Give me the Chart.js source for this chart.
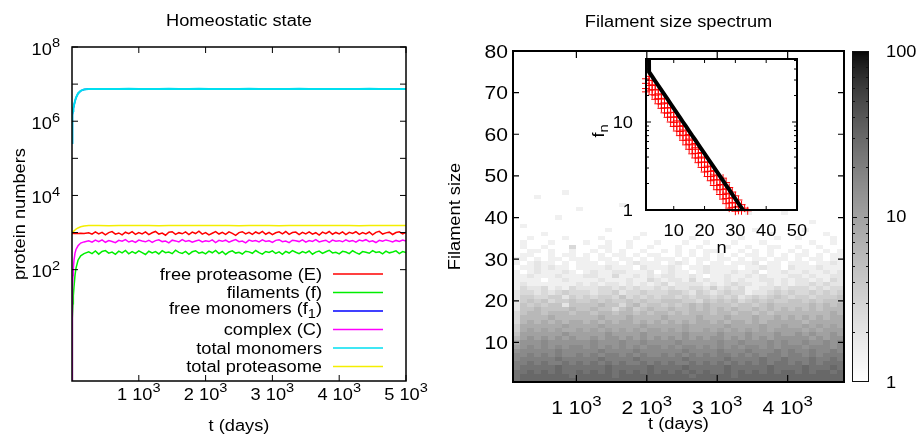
<!DOCTYPE html>
<html>
<head>
<meta charset="utf-8">
<script src="https://cdn.jsdelivr.net/npm/chart.js@4.4.0/dist/chart.umd.min.js"></script>
<style>
  html, body { margin: 0; padding: 0; background: #fff; }
  #wrap { position: relative; width: 917px; height: 435px; overflow: hidden; }
  canvas { position: absolute; left: 0; top: 0; }
</style>
</head>
<body>
<div id="wrap">
  <canvas id="left" width="917" height="435"></canvas>
  <canvas id="right" width="917" height="435"></canvas>
  <canvas id="inset" width="917" height="435"></canvas>
</div>
<script>
// ---------- left panel: homeostatic state ----------
const seriesNames = ["free proteasome (E)", "filaments (f)", "free monomers (f_{1})",
                     "complex (C)", "total monomers", "total proteasome"];
const seriesColors = ["#ff0000", "#00ee00", "#0000ff", "#ff00ff", "#00dff0", "#f4ee00"];

// days, for the noisy series
const tFast = [0, 2, 5, 10, 15, 20, 30, 45, 60, 90, 130, 180,
  250, 300, 350, 400, 450, 500, 550, 600, 650, 700,
  750, 800, 850, 900, 950, 1000, 1050, 1100, 1150, 1200,
  1250, 1300, 1350, 1400, 1450, 1500, 1550, 1600, 1650, 1700,
  1750, 1800, 1850, 1900, 1950, 2000, 2050, 2100, 2150, 2200,
  2250, 2300, 2350, 2400, 2450, 2500, 2550, 2600, 2650, 2700,
  2750, 2800, 2850, 2900, 2950, 3000, 3050, 3100, 3150, 3200,
  3250, 3300, 3350, 3400, 3450, 3500, 3550, 3600, 3650, 3700,
  3750, 3800, 3850, 3900, 3950, 4000, 4050, 4100, 4150, 4200,
  4250, 4300, 4350, 4400, 4450, 4500, 4550, 4600, 4650, 4700,
  4750, 4800, 4850, 4900, 4950, 5000];

// days, for the smooth series
const tSlow = [0, 2, 5, 10, 15, 20, 30, 45, 60, 90, 130, 180,
  250, 400, 550, 700, 850, 1000, 1150, 1300, 1450, 1600,
  1750, 1900, 2050, 2200, 2350, 2500, 2650, 2800, 2950, 3100,
  3250, 3400, 3550, 3700, 3850, 4000, 4150, 4300, 4450, 4600,
  4750, 4900, 5000];

const freeProteasome = [1000, 995, 985, 972, 964, 958, 952, 948, 956, 944, 953, 947,
  985, 902, 1043, 918, 1012, 871, 996, 1064, 908, 975,
  862, 1021, 931, 1058, 894, 1005, 922, 1047, 879, 988,
  1072, 911, 967, 848, 1019, 1051, 897, 993, 926, 1038,
  883, 1027, 940, 1085, 905, 1002, 866, 959, 1061, 913,
  1016, 889, 1040, 947, 842, 998, 1055, 915, 1009, 893,
  1036, 929, 1070, 901, 1011, 874, 985, 1044, 919, 1066,
  896, 1003, 1031, 877, 1018, 924, 1049, 906, 990, 858,
  1029, 936, 1068, 899, 1007, 921, 1042, 884, 1013, 950,
  1053, 894, 997, 918, 1035, 869, 1010, 1079, 912, 981,
  1024, 887, 1001, 1046, 915, 1015];

const filaments = [0.05, 0.2, 1, 5, 12, 20, 35, 70, 110, 180, 235, 270,
  304, 271, 319, 262, 310, 327, 279, 298, 258, 315,
  284, 331, 268, 305, 276, 322, 289, 256, 313, 281,
  307, 265, 326, 286, 299, 270, 334, 292, 274, 311,
  260, 303, 324, 278, 296, 267, 317, 285, 329, 272,
  308, 257, 300, 321, 280, 295, 264, 314, 302, 276,
  328, 287, 263, 309, 291, 320, 273, 301, 259, 312,
  281, 325, 294, 269, 306, 283, 318, 261, 297, 316,
  275, 304, 333, 282, 293, 266, 311, 300, 271, 323,
  288, 262, 307, 296, 277, 327, 290, 303, 268, 315,
  284, 299, 321, 272, 306, 292];

const complexC = [0.05, 0.5, 5, 30, 70, 110, 180, 280, 350, 440, 520, 560,
  598, 551, 626, 566, 637, 548, 609, 574, 532, 618,
  583, 646, 556, 602, 541, 629, 590, 563, 621, 545,
  606, 640, 570, 589, 528, 624, 596, 559, 643, 577,
  612, 547, 593, 631, 562, 604, 572, 638, 537, 615,
  580, 623, 553, 601, 644, 568, 592, 530, 627, 585,
  610, 558, 634, 575, 599, 543, 617, 641, 566, 588,
  535, 620, 603, 571, 632, 552, 611, 579, 648, 561,
  594, 622, 546, 628, 583, 605, 564, 639, 573, 613,
  549, 625, 590, 642, 567, 600, 539, 619, 581, 633,
  596, 557, 614, 576, 630, 591];

const totalMonomers = [2.6e5, 6.0e5, 1.0e6, 1.5e6, 1.9e6, 2.2e6, 2.7e6, 3.5e6, 4.3e6, 5.6e6, 6.6e6, 7.2e6,
  7.38e6, 7.44e6, 7.41e6, 7.35e6, 7.46e6, 7.40e6, 7.43e6, 7.37e6, 7.45e6, 7.39e6,
  7.42e6, 7.48e6, 7.36e6, 7.41e6, 7.44e6, 7.38e6, 7.47e6, 7.40e6, 7.35e6, 7.43e6,
  7.39e6, 7.46e6, 7.41e6, 7.37e6, 7.44e6, 7.40e6, 7.42e6, 7.36e6, 7.45e6, 7.39e6,
  7.43e6, 7.41e6, 7.44e6];

// hidden under the total monomer curve in the picture
const freeMonomers = [2.58e5, 5.96e5, 0.99e6, 1.49e6, 1.89e6, 2.19e6, 2.69e6, 3.48e6, 4.28e6, 5.58e6, 6.58e6, 7.18e6,
  7.36e6, 7.42e6, 7.39e6, 7.33e6, 7.44e6, 7.38e6, 7.41e6, 7.35e6, 7.43e6, 7.37e6,
  7.40e6, 7.46e6, 7.34e6, 7.39e6, 7.42e6, 7.36e6, 7.45e6, 7.38e6, 7.33e6, 7.41e6,
  7.37e6, 7.44e6, 7.39e6, 7.35e6, 7.42e6, 7.38e6, 7.40e6, 7.34e6, 7.43e6, 7.37e6,
  7.41e6, 7.39e6, 7.42e6];

const totalProteasome = [1000, 1004, 1012, 1028, 1048, 1068, 1110, 1170, 1230, 1330, 1430, 1500,
  1540, 1552, 1536, 1548, 1557, 1541, 1549, 1535, 1553, 1544,
  1538, 1556, 1547, 1540, 1551, 1534, 1549, 1555, 1543, 1537,
  1550, 1546, 1558, 1539, 1547, 1542, 1553, 1536, 1549, 1545,
  1552, 1541, 1548];

const leftYTicks = [1e2, 1e3, 1e4, 1e5, 1e6, 1e7, 1e8];
const leftYLabels = ["10^{2}", "10^{4}", "10^{6}", "10^{8}"];
const leftYLabelVals = [1e2, 1e4, 1e6, 1e8];
const leftXTicks = [1000, 2000, 3000, 4000, 5000];
const leftXLabels = ["1 10^{3}", "2 10^{3}", "3 10^{3}", "4 10^{3}", "5 10^{3}"];

// ---------- right panel: filament size spectrum ----------
// centre of each 100-day time bin
const heatT = [150, 250, 350, 450, 550, 650, 750, 850, 950, 1050,
  1150, 1250, 1350, 1450, 1550, 1650, 1750, 1850, 1950, 2050,
  2150, 2250, 2350, 2450, 2550, 2650, 2750, 2850, 2950, 3050,
  3150, 3250, 3350, 3450, 3550, 3650, 3750, 3850, 3950, 4050,
  4150, 4250, 4350, 4450, 4550, 4650, 4750];
const heatBin = 100;
// one character per cell, value looked up in heatLevels
const heatCodes = ".123456789abcde";
const heatLevels = [0, 1.5, 2, 2.7, 3.5, 4.5, 6, 8, 10, 13, 16, 20, 25, 30, 36];
const heatTopRow = 46;
const heatRowsTopDown = [
  ".......1.. .......... .......... .......... .......", // 46
  "...1...... .......... .......... .......... .......",
  ".......... .......... .....1.... .......... .......",
  ".......... .....1.... .......... .......... .......",
  ".........1 .......... .......... .......... .......", // 42
  ".......... .......... .......... ...1....1. .......",
  "......1... .......... .......... .......... .......",
  ".......... .......... .......... .......... ..1....",
  ".1........ .......... ......1... .......... .......", // 38
  ".......... ...1...... .......... ....1..... .1.....",
  "....1..... ........1. ...1...... ......1... ....1..",
  "..1....1.. ..1....1.. .....1.... ..1....1.. 1....1.",
  ".1...1.... 1..1..1... 1...1..1.. .1...1.... ..1..1.", // 34
  ".1..1...3. ..11..1..1 ...1..1... 1..1..11.. 1..1...",
  "..11.1..1. .1.1.1..1. .1.1.1.11. ..1.1.1..1 .1..1.1",
  ".11..1.11. 1.1.11.1.1 1..1.1.1.1 .1.11.1.1. 11.1.11",
  "11.1.11.11 1.11.11.1. 111.1.11.1 1.1.11.11. 1.11.11", // 30
  "1.1211.1.1 11.11.1211 1.121.1.11 .1112.11.1 11.1121",
  ".1121211.1 1112111.21 1121.11211 11.11211.2 1112111",
  "1.1211121. 1211221112 .1211.1211 12112.1121 1211212",
  "1121112111 2211311212 1221121.11 2112121112 2121122", // 26
  "1111.11211 1121112113 2122131211 2121122121 2212132",
  "1211111112 1212212121 2312222121 2322112121 2232322",
  "1322312132 2233232322 3232233242 3231122323 3323233",
  "2332323433 3233423343 3344324323 4331223434 3343434", // 22
  "2443344243 4344353434 3443434434 3423434543 4434445",
  "2454534454 4545445454 4555443545 4534545445 5454555",
  "2545455255 5565535645 5454565655 5455456555 5565656",
  "2556555565 5655356456 5565565656 5655656565 6565666", // 18
  "3566566656 6566566565 6656566656 6566565666 6666676",
  "3666676666 6676667666 6766667666 7666766767 6767677",
  "3676767677 6767677676 7676767767 6776767777 7677777",
  "4777777877 7787777787 7777877777 8777787787 7878787", // 14
  "4787878778 7878787878 8787877878 7878787888 8787888",
  "5888888988 8889888898 8888988889 8889888988 9898898",
  "6898989898 8989989898 9898989899 8989898999 9989899",
  "7999a99999 9a999a99a9 999a99999a 99a999a9a9 9a99a9a", // 10
  "89a9a9a9aa 9a9a9a9a9a a9a9aa9a9a 9a9aa9a9aa a9aaa9a",
  "9aaaaabaaa aabaaaabaa aaaabaaaab aaabaaabab aabaaba",
  "aabababaab ababbababa ababababab babababbab bababbb",
  "abbbbbcbbb bbcbbbbcbb bbbbcbbbbb cbbbbcbbcb bbcbbcb", // 6
  "bbcbcbbcbc bcbcbcbbcb cbcbbcbcbc bcbcbcbccb cbcbccc",
  "bcccccdccc cccdcccccd ccccdccccc dcccccdccc cdcccdc",
  "ccdcdcdccd cdcdcdcdcd cdcdcdcdcc dcdcdcdcdd cdcddcd",
  "cdddddddcd ddddcddddd dddddcdddd dcdddddddd ddddddd", // 2
  "cddddddddd dddddddddd dddddddddd dddddddddd ddddddd"  // 1
];
const heatYLabels = [10, 20, 30, 40, 50, 60, 70, 80];
const heatXTicks = [1000, 2000, 3000, 4000];
const heatXLabels = ["1 10^{3}", "2 10^{3}", "3 10^{3}", "4 10^{3}"];
const cbMin = 1, cbMax = 100;
const cbMinor = [2, 3, 4, 5, 6, 7, 8, 9, 20, 30, 40, 50, 60, 70, 80, 90];
const cbLabels = [1, 10, 100];

// ---------- inset: f_n against n ----------
const insetN = [1, 2, 3, 4, 5, 6, 7, 8, 9, 10, 11, 12, 13, 14, 15, 16, 17,
  18, 19, 20, 21, 22, 23, 24, 25, 26, 27, 28, 29, 30, 31, 32, 33, 34];
const fnTheory = [7.4e6, 37, 32.9, 29.2, 25.9, 23.0, 20.5, 18.2, 16.1, 14.3, 12.7, 11.3, 10.0, 8.9, 7.9, 7.0, 6.25,
  5.55, 4.93, 4.38, 3.89, 3.46, 3.07, 2.73, 2.42, 2.15, 1.91, 1.70, 1.51, 1.34, 1.19, 1.06, 0.94, null];
const fnRunA = [31, 33, 29.6, 26.0, 23.5, 20.4, 18.6, 16.2, 14.6, 12.8, 11.5, 10.0, 9.1, 7.9, 7.2, 6.2, 5.7,
  4.9, 4.5, 3.9, 3.5, 3.1, 2.8, 2.45, 2.2, 1.93, 1.74, 1.52, 1.38, 1.2, 1.1, 0.98, null, null];
const fnRunB = [27.5, 29.8, 26.5, 23.1, 20.9, 18.2, 16.5, 14.4, 12.9, 11.3, 10.3, 8.9, 8.1, 7.0, 6.4, 5.5, 5.1,
  4.4, 4.0, 3.5, 3.15, 2.75, 2.5, 2.2, 1.95, 1.72, 1.55, 1.36, 1.22, 1.08, 0.99, null, null, null];
const fnRunC = [24, 26, 23.3, 20.2, 18.4, 16.0, 14.5, 12.6, 11.4, 9.9, 9.0, 7.8, 7.1, 6.2, 5.6, 4.9, 4.4,
  3.9, 3.5, 3.05, 2.75, 2.4, 2.2, 1.9, 1.7, 1.5, 1.35, 1.2, 1.07, 0.97, null, null, null, null];
const fnRunD = [null, null, null, null, null, null, null, null, null, null, null, null, null, null, null, null, null,
  null, null, null, null, null, null, null, null, 2.3, 2.05, 1.8, 1.6, 1.45, 1.3, 1.15, 1.05, 0.98];
const fnRunE = [22, 23, 20.4, 18.1, 16.1, 14.3, 12.7, 11.3, 10.0, 8.9, 7.9, 7.0, 6.2, 5.5, 4.9, 4.35, 3.9,
  3.45, 3.05, 2.7, 2.4, 2.15, 1.9, 1.7, 1.5, 1.33, 1.18, 1.05, null, null, null, null, null, null];
const insetXLabels = [10, 20, 30, 40, 50];
const insetYMinor = [2, 3, 4, 5, 6, 7, 8, 9, 20, 30, 40, 50];

// ---------- drawing helpers ----------
const FONT = '"Liberation Sans", Arial, Helvetica, sans-serif';
const HS = 1.14; // glyphs in the picture run wider than plain Arial

// gnuplot style text: ^{..} superscript, _{..} subscript
function parseEnh(s, size) {
  const parts = [];
  const re = /([_^])\{([^}]*)\}/g;
  let last = 0, m;
  while ((m = re.exec(s))) {
    if (m.index > last) parts.push({ text: s.slice(last, m.index), size: size, dy: 0 });
    parts.push({ text: m[2], size: size * 0.8, dy: m[1] === "^" ? -0.44 * size : 0.25 * size });
    last = re.lastIndex;
  }
  if (last < s.length) parts.push({ text: s.slice(last), size: size, dy: 0 });
  return parts;
}

function drawText(ctx, s, x, y, align, rot, size) {
  const parts = parseEnh(String(s), size || 16);
  ctx.save();
  ctx.translate(x, y);
  if (rot) ctx.rotate(rot);
  ctx.scale(HS, 1);
  ctx.textAlign = "left";
  ctx.textBaseline = "alphabetic";
  ctx.fillStyle = "#000";
  let w = 0;
  parts.forEach(p => { ctx.font = p.size + "px " + FONT; p.w = ctx.measureText(p.text).width; w += p.w; });
  let cx = align === "right" ? -w : (align === "center" ? -w / 2 : 0);
  parts.forEach(p => { ctx.font = p.size + "px " + FONT; ctx.fillText(p.text, cx, p.dy); cx += p.w; });
  ctx.restore();
}

// offset from a tick's pixel to the baseline so the label sits centred on it
function midBase(s) {
  s = String(s);
  if (s.indexOf("^") >= 0) return 7.5;
  if (s.indexOf("_") >= 0) return 3;
  return 5.5;
}

function pairs(xs, ys) {
  const out = [];
  for (let i = 0; i < xs.length; i++) if (ys[i] != null) out.push({ x: xs[i], y: ys[i] });
  return out;
}

function grayOf(v) {
  if (!(v > 1)) return "rgb(255,255,255)";
  const f = 1 - Math.min(Math.log10(v), 2) / 2;
  const g = Math.round(255 * Math.pow(f, 2 / 3));
  return "rgb(" + g + "," + g + "," + g + ")";
}

// ---------- left chart ----------
const leftDeco = {
  id: "leftDeco",
  afterDraw(chart) {
    const ctx = chart.ctx, a = chart.chartArea;
    const xs = chart.scales.x, ys = chart.scales.y;
    ctx.save();
    ctx.strokeStyle = "#000";
    ctx.lineWidth = 1;
    ctx.beginPath();
    leftYTicks.forEach(v => {
      const y = ys.getPixelForValue(v);
      ctx.moveTo(a.left, y); ctx.lineTo(a.left + 6, y);
      ctx.moveTo(a.right, y); ctx.lineTo(a.right - 6, y);
    });
    leftXTicks.forEach(v => {
      const x = xs.getPixelForValue(v);
      ctx.moveTo(x, a.bottom); ctx.lineTo(x, a.bottom - 6);
      ctx.moveTo(x, a.top); ctx.lineTo(x, a.top + 6);
    });
    ctx.stroke();
    ctx.lineWidth = 1.5;
    ctx.strokeRect(a.left, a.top, a.right - a.left, a.bottom - a.top);

    leftYLabels.forEach((s, i) => {
      drawText(ctx, s, a.left - 12, ys.getPixelForValue(leftYLabelVals[i]) + midBase(s), "right");
    });
    leftXLabels.forEach((s, i) => {
      drawText(ctx, s, xs.getPixelForValue(leftXTicks[i]), a.bottom + 18.5, "center");
    });

    // key, inside the plot at bottom right
    chart.data.datasets.forEach((ds, i) => {
      const yc = 274 + i * 18.5;
      drawText(ctx, ds.label, 322, yc + midBase(ds.label), "right");
      ctx.strokeStyle = ds.borderColor;
      ctx.lineWidth = 1.5;
      ctx.beginPath();
      ctx.moveTo(333, yc); ctx.lineTo(383, yc);
      ctx.stroke();
    });

    const cx = (a.left + a.right) / 2;
    drawText(ctx, "Homeostatic state", cx, 26, "center");
    drawText(ctx, "t (days)", cx, 431, "center");
    drawText(ctx, "protein numbers", 25, (a.top + a.bottom) / 2, "center", -Math.PI / 2);
    ctx.restore();
  }
};

const leftSeries = [
  [tFast, freeProteasome], [tFast, filaments], [tSlow, freeMonomers],
  [tFast, complexC], [tSlow, totalMonomers], [tSlow, totalProteasome]
];

new Chart(document.getElementById("left"), {
  type: "line",
  data: {
    datasets: leftSeries.map((s, i) => ({
      label: seriesNames[i],
      data: pairs(s[0], s[1]),
      borderColor: seriesColors[i],
      borderWidth: i === 4 ? 2 : 1.5,
      pointRadius: 0,
      tension: 0,
      order: 6 - i
    }))
  },
  options: {
    responsive: false,
    animation: false,
    devicePixelRatio: 1,
    events: [],
    layout: { padding: { left: 72, top: 47, right: 511, bottom: 54 } },
    scales: {
      x: { type: "linear", min: 0, max: 5000, display: false },
      y: { type: "logarithmic", min: 0.1, max: 1e8, display: false }
    },
    plugins: { legend: { display: false }, tooltip: { enabled: false } }
  },
  plugins: [leftDeco]
});

// ---------- right chart: spectrum map + colour box ----------
const cbLeft = 852, cbRight = 869;

const heatDeco = {
  id: "heatDeco",
  beforeDatasetsDraw(chart) {
    const ctx = chart.ctx;
    const xs = chart.scales.x, ys = chart.scales.y, cb = chart.scales.cb;
    ctx.save();
    heatRowsTopDown.forEach((row, r) => {
      const n = heatTopRow - r;
      const cells = row.replace(/ /g, "");
      const yTop = Math.round(ys.getPixelForValue(n + 0.5));
      const yBot = Math.round(ys.getPixelForValue(n - 0.5));
      for (let k = 0; k < heatT.length; k++) {
        const lvl = heatCodes.indexOf(cells.charAt(k));
        if (lvl <= 0) continue;
        const x0 = Math.round(xs.getPixelForValue(heatT[k] - heatBin / 2));
        const x1 = Math.round(xs.getPixelForValue(heatT[k] + heatBin / 2));
        ctx.fillStyle = grayOf(heatLevels[lvl]);
        ctx.fillRect(x0, yTop, x1 - x0, yBot - yTop);
      }
    });
    const top = Math.round(cb.getPixelForValue(cbMax));
    const bot = Math.round(cb.getPixelForValue(cbMin));
    for (let y = top; y < bot; y++) {
      ctx.fillStyle = grayOf(cb.getValueForPixel(y + 0.5));
      ctx.fillRect(cbLeft, y, cbRight - cbLeft, 1);
    }
    ctx.restore();
  },
  afterDraw(chart) {
    const ctx = chart.ctx, a = chart.chartArea;
    const xs = chart.scales.x, ys = chart.scales.y, cb = chart.scales.cb;
    ctx.save();
    ctx.strokeStyle = "#000";
    ctx.lineWidth = 1.2;
    ctx.beginPath();
    heatYLabels.forEach(v => {
      if (v >= 80) return;
      const y = ys.getPixelForValue(v);
      ctx.moveTo(a.left, y); ctx.lineTo(a.left + 6, y);
      ctx.moveTo(a.right, y); ctx.lineTo(a.right - 6, y);
    });
    heatXTicks.forEach(v => {
      const x = xs.getPixelForValue(v);
      ctx.moveTo(x, a.bottom); ctx.lineTo(x, a.bottom - 7);
      ctx.moveTo(x, a.top); ctx.lineTo(x, a.top + 7);
    });
    ctx.stroke();
    ctx.lineWidth = 2;
    ctx.strokeRect(a.left, a.top, a.right - a.left, a.bottom - a.top);

    // colour box frame and ticks
    const top = cb.getPixelForValue(cbMax), bot = cb.getPixelForValue(cbMin);
    ctx.lineWidth = 1;
    ctx.strokeStyle = "#111";
    ctx.strokeRect(cbLeft + 0.5, top + 0.5, cbRight - cbLeft - 1, bot - top - 1);
    ctx.beginPath();
    cbMinor.forEach(v => {
      const y = Math.round(cb.getPixelForValue(v)) + 0.5;
      ctx.moveTo(cbLeft, y); ctx.lineTo(cbLeft + 3, y);
      ctx.moveTo(cbRight, y); ctx.lineTo(cbRight - 3, y);
    });
    const y10 = Math.round(cb.getPixelForValue(10)) + 0.5;
    ctx.moveTo(cbLeft, y10); ctx.lineTo(cbLeft + 5, y10);
    ctx.moveTo(cbRight, y10); ctx.lineTo(cbRight - 5, y10);
    ctx.stroke();
    cbLabels.forEach(v => drawText(ctx, v, 886, cb.getPixelForValue(v) + midBase(v), "left"));

    heatYLabels.forEach(v => drawText(ctx, v, a.left - 5, ys.getPixelForValue(v) + 6.5, "right", 0, 18.5));
    heatXLabels.forEach((s, i) => drawText(ctx, s, xs.getPixelForValue(heatXTicks[i]), a.bottom + 32, "center", 0, 18.5));

    const cx = (a.left + a.right) / 2;
    drawText(ctx, "Filament size spectrum", cx, 27, "center");
    drawText(ctx, "t (days)", cx, 429, "center");
    drawText(ctx, "Filament size", 460, (a.top + a.bottom) / 2, "center", -Math.PI / 2);
    ctx.restore();
  }
};

new Chart(document.getElementById("right"), {
  type: "scatter",
  data: { datasets: [] },
  options: {
    responsive: false,
    animation: false,
    devicePixelRatio: 1,
    events: [],
    layout: { padding: { left: 513, top: 51, right: 73, bottom: 53 } },
    scales: {
      x: { type: "linear", min: 100, max: 4800, display: false },
      y: { type: "linear", min: 0.5, max: 80, display: false },
      cb: { type: "logarithmic", axis: "y", position: "right", min: cbMin, max: cbMax, display: false }
    },
    plugins: { legend: { display: false }, tooltip: { enabled: false } }
  },
  plugins: [heatDeco]
});

// ---------- inset chart ----------
const insetDeco = {
  id: "insetDeco",
  beforeDatasetsDraw(chart) {
    const ctx = chart.ctx, a = chart.chartArea;
    ctx.save();
    ctx.fillStyle = "#fff";
    ctx.fillRect(a.left, a.top, a.right - a.left, a.bottom - a.top);
    ctx.restore();
  },
  afterDraw(chart) {
    const ctx = chart.ctx, a = chart.chartArea;
    const xs = chart.scales.x, ys = chart.scales.y;
    ctx.save();
    ctx.strokeStyle = "#000";
    ctx.lineWidth = 1;
    ctx.beginPath();
    insetXLabels.forEach(v => {
      if (v >= 50) return;
      const x = xs.getPixelForValue(v);
      ctx.moveTo(x, a.bottom); ctx.lineTo(x, a.bottom - 4);
      ctx.moveTo(x, a.top); ctx.lineTo(x, a.top + 4);
    });
    insetYMinor.forEach(v => {
      const y = ys.getPixelForValue(v);
      ctx.moveTo(a.left, y); ctx.lineTo(a.left + 3, y);
      ctx.moveTo(a.right, y); ctx.lineTo(a.right - 3, y);
    });
    const y10 = ys.getPixelForValue(10);
    ctx.moveTo(a.left, y10); ctx.lineTo(a.left + 5, y10);
    ctx.moveTo(a.right, y10); ctx.lineTo(a.right - 5, y10);
    ctx.stroke();
    ctx.lineWidth = 2;
    ctx.strokeRect(a.left, a.top, a.right - a.left, a.bottom - a.top);

    [1, 10].forEach(v => drawText(ctx, v, a.left - 13, ys.getPixelForValue(v) + midBase(v), "right"));
    insetXLabels.forEach(v => drawText(ctx, v, xs.getPixelForValue(v), a.bottom + 26, "center"));
    drawText(ctx, "n", (a.left + a.right) / 2, a.bottom + 43, "center");
    drawText(ctx, "f_{n}", 603.5, 131, "center", -Math.PI / 2);
    ctx.restore();
  }
};

const redRuns = [fnRunA, fnRunB, fnRunC, fnRunD, fnRunE];

new Chart(document.getElementById("inset"), {
  type: "scatter",
  data: {
    datasets: [{
      data: pairs(insetN, fnTheory),
      showLine: true,
      borderColor: "#000",
      borderWidth: 4,
      pointRadius: 0,
      clip: 0,
      order: 0
    }].concat(redRuns.map((run, i) => ({
      data: pairs(insetN, run),
      showLine: false,
      pointStyle: "cross",
      pointRadius: 4,
      borderColor: "#ff0000",
      borderWidth: 1,
      clip: false,
      order: i + 1
    })))
  },
  options: {
    responsive: false,
    animation: false,
    devicePixelRatio: 1,
    events: [],
    layout: { padding: { left: 646, top: 59, right: 120, bottom: 225 } },
    scales: {
      x: { type: "linear", min: 1, max: 50, display: false },
      y: { type: "logarithmic", min: 1, max: 52, display: false }
    },
    plugins: { legend: { display: false }, tooltip: { enabled: false } }
  },
  plugins: [insetDeco]
});
</script>
</body>
</html>
